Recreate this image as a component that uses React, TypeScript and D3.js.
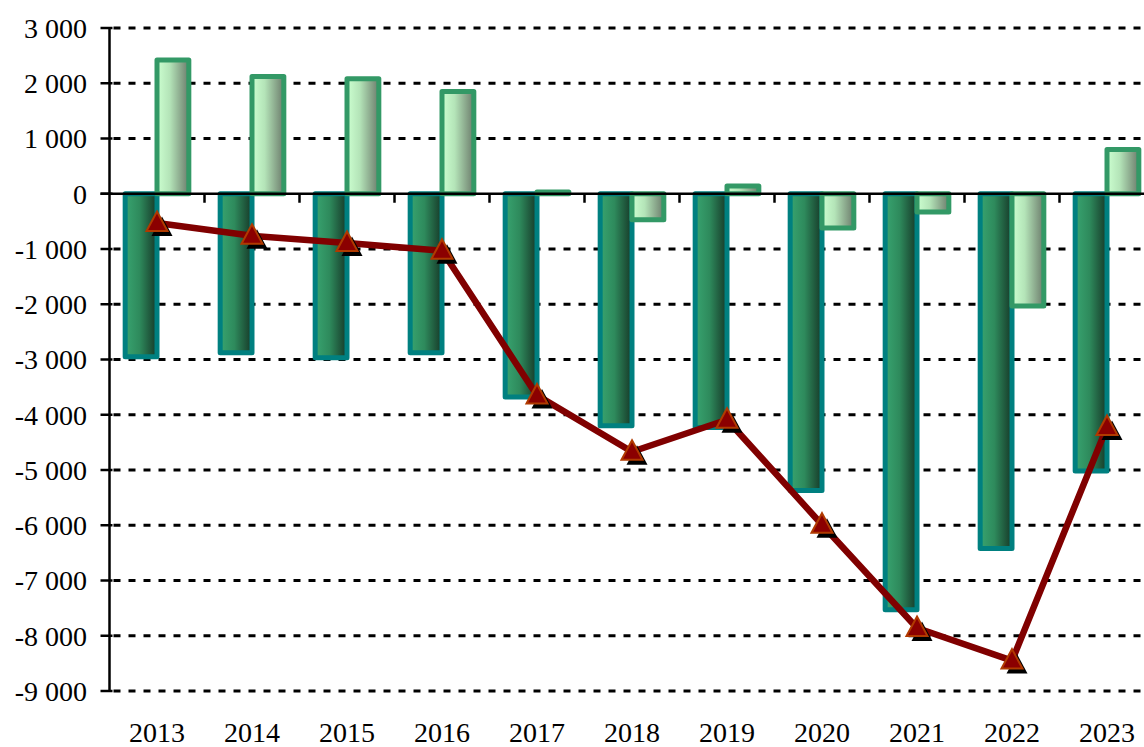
import React from "react";
import * as d3 from "d3";

const years = ["2013","2014","2015","2016","2017","2018","2019","2020","2021","2022","2023"];
const seriesDark = [-2950,-2880,-2970,-2880,-3680,-4200,-4230,-5370,-7530,-6420,-5020];
const seriesLight = [2420,2120,2080,1850,30,-470,140,-620,-330,-2030,800];
const balance = [-530,-760,-890,-1030,-3650,-4670,-4090,-5990,-7860,-8450,-4220];
const yTicks = [3000,2000,1000,0,-1000,-2000,-3000,-4000,-5000,-6000,-7000,-8000,-9000];

const W = 1144, H = 747;
const left = 109.5, top = 28, bottom = 691;
const catW = 95;

export default function App() {
  const x = d3.scaleBand<string>().domain(years).range([left, left + catW * years.length]).padding(0);
  const y = d3.scaleLinear().domain([-9000, 3000]).range([bottom, top]);
  const bw = x.bandwidth() * 0.335;
  const cx = (yr: string) => (x(yr) as number) + x.bandwidth() / 2;
  const fmt = (v: number) => {
    const s = Math.abs(v).toString();
    const body = s.length > 3 ? s.slice(0, s.length - 3) + " " + s.slice(-3) : s;
    return (v < 0 ? "-" : "") + body;
  };
  const line = d3.line<number>().x((_, i) => cx(years[i])).y((d) => y(d));
  const tri = (px: number, py: number) => `M${px},${py - 11.5} L${px + 10.5},${py + 8} L${px - 10.5},${py + 8} Z`;
  const font = "'Liberation Serif', 'Times New Roman', serif";

  return (
    <div style={{ position: "fixed", left: 0, top: 0 }}>
      <svg width={W} height={H} style={{ display: "block", background: "#fff" }}>
        <defs>
          <linearGradient id="gDark" x1="0" x2="1" y1="0" y2="0">
            <stop offset="0" stopColor="#38a470" />
            <stop offset="0.45" stopColor="#2e8a5c" />
            <stop offset="1" stopColor="#163828" />
          </linearGradient>
          <linearGradient id="gLight" x1="0" x2="1" y1="0" y2="0">
            <stop offset="0" stopColor="#ccffd0" />
            <stop offset="0.4" stopColor="#b4e4b8" />
            <stop offset="1" stopColor="#6c7c6c" />
          </linearGradient>
        </defs>
        {yTicks.filter((t) => t !== 0).map((t) => (
          <line key={"g" + t} x1={left + 4} x2={W} y1={y(t)} y2={y(t)} stroke="#000" strokeWidth={3} strokeDasharray="7 8" />
        ))}
        {years.map((yr, i) => {
          const v = seriesDark[i];
          return (
            <rect key={"d" + yr} x={cx(yr) - bw} width={bw} y={Math.min(y(0), y(v))} height={Math.abs(y(v) - y(0))}
              fill="url(#gDark)" stroke="#008080" strokeWidth={5} strokeLinejoin="round" />
          );
        })}
        {years.map((yr, i) => {
          const v = seriesLight[i];
          return (
            <rect key={"l" + yr} x={cx(yr)} width={bw} y={Math.min(y(0), y(v))} height={Math.max(0.5, Math.abs(y(v) - y(0)))}
              fill="url(#gLight)" stroke="#339966" strokeWidth={5} strokeLinejoin="round" />
          );
        })}
        <line x1={left} x2={left} y1={top} y2={bottom} stroke="#000" strokeWidth={2.5} />
        <line x1={left - 9} x2={W} y1={y(0)} y2={y(0)} stroke="#000" strokeWidth={2.5} />
        {yTicks.map((t) => (
          <line key={"t" + t} x1={left - 9} x2={left + 3} y1={y(t)} y2={y(t)} stroke="#000" strokeWidth={2.5} />
        ))}
        {years.slice(1).map((yr) => (
          <line key={"xt" + yr} x1={x(yr) as number} x2={x(yr) as number} y1={y(0)} y2={y(0) + 9} stroke="#000" strokeWidth={2.5} />
        ))}
        {yTicks.map((t) => (
          <text key={"yl" + t} x={87} y={y(t)} dy="0.35em" textAnchor="end" fontFamily={font} fontSize={28} fill="#000">{fmt(t)}</text>
        ))}
        {years.map((yr) => (
          <text key={"xl" + yr} x={cx(yr)} y={742} textAnchor="middle" fontFamily={font} fontSize={28} fill="#000">{yr}</text>
        ))}
        <path d={line(balance) || ""} fill="none" stroke="#800000" strokeWidth={6.5} strokeLinejoin="round" />
        {balance.map((v, i) => (
          <path key={"s" + i} d={tri(cx(years[i]) + 5, y(v) + 5)} fill="#000" />
        ))}
        {balance.map((v, i) => (
          <path key={"m" + i} d={tri(cx(years[i]), y(v))} fill="#8b0000" stroke="#b03a00" strokeWidth={2} />
        ))}
      </svg>
    </div>
  );
}
